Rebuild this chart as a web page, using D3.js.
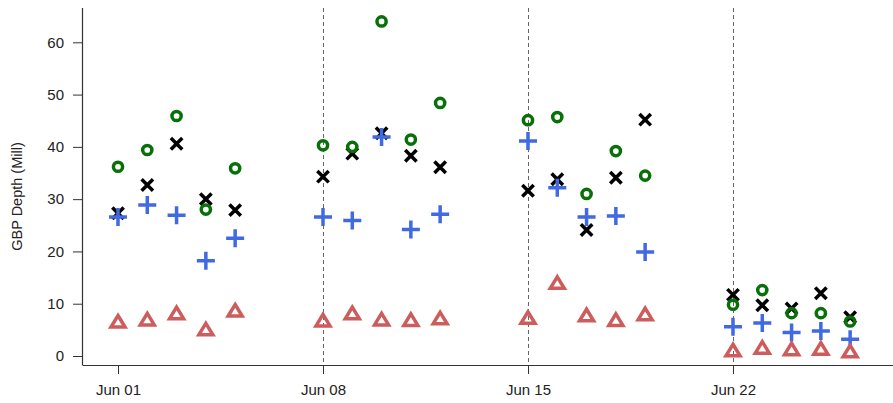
<!DOCTYPE html>
<html>
<head>
<meta charset="utf-8">
<script src="https://cdn.jsdelivr.net/npm/d3@7"></script>
<style>
  html, body { margin: 0; padding: 0; background: #fff; }
  svg { display: block; }
  text { font-family: "Liberation Sans", Arial, Helvetica, sans-serif; fill: #222; }
</style>
</head>
<body>
<svg id="chart" width="893" height="403"></svg>
<script>
// Trading days (four weeks, Mon-Fri)
const dates = [
  "2015-06-01","2015-06-02","2015-06-03","2015-06-04","2015-06-05",
  "2015-06-08","2015-06-09","2015-06-10","2015-06-11","2015-06-12",
  "2015-06-15","2015-06-16","2015-06-17","2015-06-18","2015-06-19",
  "2015-06-22","2015-06-23","2015-06-24","2015-06-25","2015-06-26"
];

// Depth series (GBP millions)
const depthCircle = [36.2, 39.4, 45.9, 28.0, 35.9,
                     40.3, 40.0, 64.0, 41.4, 48.4,
                     45.1, 45.7, 31.0, 39.2, 34.5,
                     9.8, 12.6, 8.2, 8.2, 6.6];
const depthCross  = [27.3, 32.7, 40.6, 30.0, 27.9,
                     34.3, 38.7, 42.6, 38.3, 36.1,
                     31.6, 33.8, 24.1, 34.1, 45.2,
                     11.7, 9.7, 9.1, 12.0, 7.4];
const depthPlus   = [26.6, 28.9, 26.9, 18.2, 22.5,
                     26.6, 25.9, 41.9, 24.2, 27.1,
                     41.1, 32.2, 26.6, 26.8, 19.9,
                     5.6, 6.3, 4.5, 4.8, 3.2];
const depthTri    = [6.6, 7.0, 8.2, 5.1, 8.7,
                     6.8, 8.2, 7.0, 6.9, 7.2,
                     7.3, 14.0, 7.8, 6.9, 8.0,
                     1.1, 1.6, 1.3, 1.4, 0.9];

// Axis ticks
const xTickDates = ["2015-06-01","2015-06-08","2015-06-15","2015-06-22"];
const weekLineDates = ["2015-06-08","2015-06-15","2015-06-22"];
const yTicks = [0, 10, 20, 30, 40, 50, 60];
const yLabel = "GBP Depth (Mill)";

const parse = d3.utcParse("%Y-%m-%d");
const svg = d3.select("#chart");

const plotLeft = 83, plotRight = 893, plotTop = 8, plotBottom = 365;

const x = d3.scaleUtc()
  .domain([parse("2015-06-01"), parse("2015-06-22")])
  .range([118, 733]);
const y = d3.scaleLinear()
  .domain([0, 60])
  .range([356, 42.3]);

// Weekly dashed guides
svg.append("g").selectAll("line")
  .data(weekLineDates.map(parse))
  .join("line")
  .attr("x1", d => Math.round(x(d)) + 0.5)
  .attr("x2", d => Math.round(x(d)) + 0.5)
  .attr("y1", plotTop)
  .attr("y2", plotBottom)
  .attr("stroke", "#666")
  .attr("stroke-width", 1)
  .attr("stroke-dasharray", "4,3");

// Axes
const xAxis = svg.append("g")
  .attr("transform", `translate(0,${plotBottom})`)
  .call(d3.axisBottom(x)
    .tickValues(xTickDates.map(parse))
    .tickFormat(d3.utcFormat("%b %d"))
    .tickSize(9)
    .tickPadding(10));
xAxis.select(".domain").remove();
xAxis.selectAll(".tick line").attr("stroke", "#333");
xAxis.selectAll(".tick text").style("font-size", "15px").attr("fill", "#222");

const yAxis = svg.append("g")
  .attr("transform", `translate(${plotLeft},0)`)
  .call(d3.axisLeft(y)
    .tickValues(yTicks)
    .tickSize(10)
    .tickPadding(9));
yAxis.select(".domain").remove();
yAxis.selectAll(".tick line").attr("stroke", "#333");
yAxis.selectAll(".tick text").style("font-size", "15px").attr("fill", "#222");

svg.append("line")
  .attr("x1", plotLeft).attr("x2", plotRight)
  .attr("y1", plotBottom + 0.5).attr("y2", plotBottom + 0.5)
  .attr("stroke", "#333").attr("stroke-width", 1.2);
svg.append("line")
  .attr("x1", plotLeft - 0.5).attr("x2", plotLeft - 0.5)
  .attr("y1", plotTop).attr("y2", plotBottom + 0.5)
  .attr("stroke", "#333").attr("stroke-width", 1.2);

svg.append("text")
  .attr("transform", `translate(22,${(plotTop + plotBottom) / 2 + 10}) rotate(-90)`)
  .attr("text-anchor", "middle")
  .style("font-size", "14.5px")
  .text(yLabel);

// Markers
const pts = arr => arr.map((v, i) => ({ d: parse(dates[i]), v }));
const marks = svg.append("g").attr("fill", "none").attr("stroke-width", 3.5);

marks.append("g").selectAll("path")
  .data(pts(depthCross))
  .join("path")
  .attr("transform", p => `translate(${x(p.d)},${y(p.v)})`)
  .attr("d", "M-5.7,-5.7L5.7,5.7M-5.7,5.7L5.7,-5.7")
  .attr("stroke", "#000");

marks.append("g").selectAll("circle")
  .data(pts(depthCircle))
  .join("circle")
  .attr("cx", p => x(p.d))
  .attr("cy", p => y(p.v))
  .attr("r", 4.6)
  .attr("stroke", "#087008");

marks.append("g").selectAll("path")
  .data(pts(depthPlus))
  .join("path")
  .attr("transform", p => `translate(${x(p.d)},${y(p.v)})`)
  .attr("d", "M-9,0L9,0M0,-9L0,9")
  .attr("stroke", "#4169E1");

marks.append("g").selectAll("path")
  .data(pts(depthTri))
  .join("path")
  .attr("transform", p => `translate(${x(p.d)},${y(p.v)})`)
  .attr("d", "M0,-6L7,5.5L-7,5.5Z")
  .attr("stroke", "#CD5C5C")
  .attr("stroke-linejoin", "miter");
</script>
</body>
</html>
